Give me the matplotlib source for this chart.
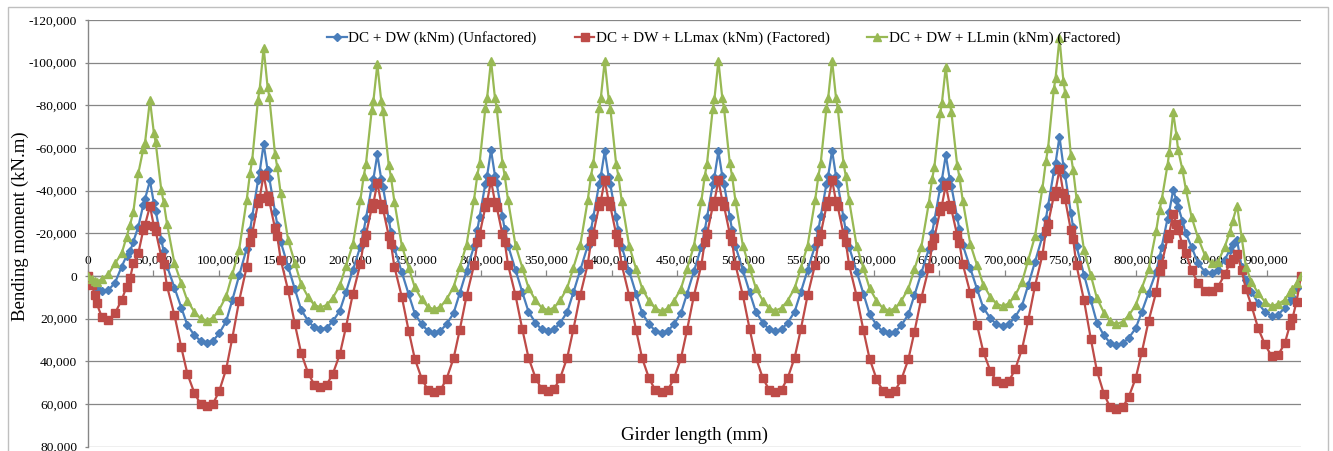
import matplotlib
matplotlib.use("Agg")
import matplotlib.pyplot as plt
from matplotlib.patches import Rectangle
from matplotlib.ticker import FuncFormatter, MultipleLocator

plt.rcParams['font.family'] = ['Liberation Serif', 'DejaVu Serif']

# girder position (mm)
girder_x = [
    0, 2800, 5300, 6600, 10500, 15500, 20600, 25700, 29500, 32100, 34600, 38400, 42200, 43500,
    47300, 50300, 51600, 56000, 57700, 60300, 66000, 71200, 75900, 81200, 85900,
    90700, 95500, 100200, 105500, 110200, 115400, 121100, 123700, 125400, 129800, 131100,
    134100, 137100, 138400, 142800, 144500, 147100, 152800, 158000, 162700, 168000, 172700,
    177500, 182300, 187000, 192300, 197000, 202200, 207900, 210500, 212200, 216600, 217900,
    220900, 223900, 225200, 229600, 231300, 233900, 239600, 244800, 249500, 254800, 259500,
    264300, 269100, 273800, 279100, 283800, 289000, 294700, 297300, 299000, 303400, 304700,
    307700, 310700, 312000, 316400, 318100, 320700, 326400, 331600, 336300, 341600, 346300,
    351100, 355900, 360600, 365900, 370600, 375800, 381500, 384100, 385800, 390200, 391500,
    394500, 397500, 398800, 403200, 404900, 407500, 413200, 418400, 423100, 428400, 433100,
    437900, 442700, 447400, 452700, 457400, 462600, 468300, 470900, 472600, 477000, 478300,
    481300, 484300, 485600, 490000, 491700, 494300, 500000, 505200, 509900, 515200, 519900,
    524700, 529500, 534200, 539500, 544200, 549400, 555100, 557700, 559400, 563800, 565100,
    568100, 571100, 572400, 576800, 578500, 581100, 586800, 592000, 596700, 602000, 606700,
    611500, 616300, 621000, 626300, 631000, 636200, 641900, 644500, 646200, 650600, 651900,
    654900, 657900, 659200, 663600, 665300, 667900, 673600, 678800, 683500, 688800, 693500,
    698300, 703100, 707800, 713100, 717800, 723000, 728700, 731300, 733000, 737400, 738700,
    741700, 744700, 746000, 750400, 752100, 754700, 760400, 765600, 770300, 775600, 780300,
    785100, 789900, 794600, 799900, 804600, 809800, 815500, 818100, 819800, 824200, 825500,
    828500, 831000, 832300, 835500, 838200, 842500, 847600, 852700, 857800, 862800, 867900, 871800, 874000,
    877300, 880700, 884000, 888300, 893400, 898500, 903600, 908600, 913700, 917600, 919600, 922700, 926100,
]

# DC + DW (kNm) (Unfactored)
m_unfactored = [
    0, 2600, 4800, 5500, 7100, 6600, 3200, -4400, -9500, -11500, -16100, -23100, -33300, -36000,
    -44700, -34100, -30700, -17000, -11700, -4700, 5500, 14900, 23100, 27700, 30400,
    31200, 30300, 26900, 21200, 11200, -300, -12800, -21400, -27900, -44800, -48900,
    -61900, -49700, -45900, -30200, -24100, -16100, -4400, 6300, 15700, 21000, 24100,
    25000, 24200, 21200, 16200, 7400, -2700, -13800, -21300, -27100, -41900, -45500,
    -57000, -45300, -41600, -26500, -20700, -13000, -1700, 8500, 17600, 22700, 25700,
    26500, 25600, 22600, 17400, 8100, -2400, -13900, -21800, -27800, -43300, -47000,
    -59000, -47100, -43400, -28000, -22100, -14300, -2900, 7600, 16700, 21900, 25000,
    25800, 25000, 21900, 16800, 7700, -2700, -14100, -21800, -27700, -43000, -46700,
    -58500, -46600, -42900, -27500, -21500, -13700, -2200, 8200, 17400, 22600, 25700,
    26500, 25700, 22600, 17400, 8200, -2200, -13700, -21500, -27500, -42900, -46600,
    -58500, -46700, -43000, -27700, -21800, -14100, -2700, 7700, 16800, 21900, 25000,
    25800, 25000, 21900, 16700, 7600, -2800, -14200, -22000, -27900, -43200, -47000,
    -58800, -46800, -43000, -27500, -21500, -13600, -2100, 8500, 17700, 23000, 26000,
    26900, 26100, 23100, 18000, 8900, -1400, -12600, -20300, -26200, -41300, -45000,
    -56700, -45500, -42000, -27500, -21900, -14500, -3700, 6200, 14800, 19700, 22600,
    23400, 22500, 19300, 13900, 4300, -6600, -18600, -26700, -32900, -49000, -52900,
    -65300, -51600, -47300, -29700, -22800, -13900, -700, 11300, 21900, 27800, 31300,
    32300, 31600, 29000, 24500, 16700, 7800, -2000, -8700, -13800, -26900, -30100,
    -40300, -35500, -32500, -26000, -20000, -13700, -5900, -2000, -1300, -3000, -7700, -12300, -14800,
    -16900, -4400, 1900, 7300, 12800, 16700, 18800, 18200, 14900, 11500, 9800, 5800, 0,
]

# DC + DW + LLmax (kNm) (Factored)
m_llmax = [
    0, 4200, 8900, 12800, 19100, 20600, 17500, 11200, 5000, 1100, -5900, -10600, -21600, -23900,
    -32800, -23400, -21200, -9000, -5600, 4700, 18300, 33400, 45900, 54800, 60000,
    60900, 59800, 53900, 43600, 29000, 11600, -4100, -16100, -20000, -34100, -36700,
    -47500, -37600, -35200, -22300, -18700, -7700, 6700, 22700, 36000, 45400, 50900,
    51900, 50900, 45700, 36600, 23800, 8400, -5500, -16000, -19400, -31800, -34100,
    -43700, -33900, -31500, -18800, -15200, -4400, 9800, 25600, 38800, 48100, 53500,
    54500, 53500, 48100, 38600, 25300, 9400, -5000, -15900, -19500, -32400, -34800,
    -44700, -34800, -32500, -19600, -16100, -5200, 9100, 25000, 38200, 47600, 53000,
    54000, 53000, 47600, 38200, 24900, 9000, -5400, -16300, -19900, -32700, -35100,
    -45000, -35100, -32700, -19700, -16100, -5200, 9200, 25200, 38600, 48000, 53500,
    54500, 53500, 48000, 38600, 25200, 9200, -5200, -16100, -19700, -32700, -35100,
    -45000, -35100, -32700, -19800, -16200, -5300, 9100, 25000, 38300, 47800, 53200,
    54200, 53200, 47800, 38300, 25000, 9100, -5300, -16200, -19800, -32700, -35100,
    -45000, -35000, -32600, -19700, -16100, -5100, 9300, 25400, 38700, 48200, 53700,
    54700, 53700, 48400, 39100, 26100, 10400, -3700, -14500, -18000, -30600, -33000,
    -42700, -33400, -31200, -19100, -15700, -5500, 8000, 23000, 35400, 44300, 49400,
    50300, 49300, 43800, 34300, 20800, 4700, -9900, -20900, -24500, -37600, -40000,
    -50000, -38800, -36100, -21400, -17400, -5000, 11300, 29400, 44500, 55200, 61400,
    62500, 61600, 56600, 47900, 35600, 20900, 7600, -2500, -5800, -17700, -19900,
    -29000, -24500, -21600, -15000, -10600, -2800, 3400, 6900, 7200, 5000, -800, -5900, -8000,
    -10300, -2800, 6000, 14000, 24500, 32000, 37500, 37000, 31600, 23000, 19800, 12000, 0,
]

# DC + DW + LLmin (kNm) (Factored)
m_llmin = [
    0, 1500, 2500, 2700, 1500, -800, -5900, -10600, -18400, -24000, -30000, -48100, -59500, -62200,
    -82500, -67000, -62900, -40100, -34900, -24600, -6000, 3300, 11600, 16800, 19900,
    20900, 19600, 15800, 9400, -800, -12400, -35400, -48200, -54600, -82700, -87800,
    -107000, -88700, -83900, -57100, -51000, -38800, -16900, -6000, 3700, 9800, 13500,
    14700, 13600, 10100, 4400, -4700, -14900, -35400, -46800, -52500, -77600, -82100,
    -99200, -82000, -77400, -52100, -46400, -34900, -14200, -3900, 5300, 11000, 14500,
    15600, 14400, 10900, 5100, -4200, -14700, -35700, -47400, -53200, -78800, -83500,
    -101000, -83500, -78800, -53000, -47200, -35500, -14400, -3900, 5500, 11300, 14800,
    16000, 14800, 11300, 5500, -3900, -14400, -35400, -47100, -52900, -78600, -83300,
    -100800, -83200, -78500, -52700, -46900, -35200, -14100, -3500, 5900, 11700, 15200,
    16400, 15200, 11700, 5900, -3500, -14100, -35200, -46900, -52700, -78500, -83200,
    -100800, -83300, -78600, -52800, -47000, -35300, -14200, -3700, 5700, 11500, 15000,
    16200, 15000, 11500, 5700, -3700, -14300, -35400, -47100, -52900, -78700, -83400,
    -101000, -83400, -78700, -52900, -47100, -35400, -14300, -3700, 5700, 11500, 15000,
    16200, 15100, 11600, 5900, -3200, -13500, -34000, -45500, -51200, -76300, -80900,
    -98000, -81200, -76700, -52000, -46400, -35200, -15000, -5000, 4000, 9600, 13000,
    14100, 12800, 9100, 2800, -7300, -18600, -41200, -53700, -60000, -87600, -92700,
    -111500, -91400, -86000, -56600, -49900, -36500, -12300, -300, 10400, 17100, 21200,
    22500, 21500, 18500, 13600, 5600, -3300, -21100, -31100, -36000, -52000, -58000,
    -76700, -66000, -59000, -50000, -40600, -27800, -17700, -9800, -5900, -6700, -13700, -20800, -26000,
    -33000, -18400, -4400, 2700, 8100, 12000, 14100, 13100, 11200, 7500, 6000, 3400, 0,
]

series_labels = [
    "DC + DW (kNm) (Unfactored)",
    "DC + DW + LLmax (kNm) (Factored)",
    "DC + DW + LLmin (kNm) (Factored)",
]

grid_col = '#868686'

fig = plt.figure(figsize=(13.33, 4.51), dpi=100)
ax = fig.add_axes([88 / 1333, 1 - 446.7 / 451, 1213 / 1333, 426.7 / 451])

ax.plot(girder_x, m_unfactored, color='#4A7EBB', lw=1.6, marker='D', ms=4.3,
        mec='#4A7EBB', mfc='#4A7EBB', label=series_labels[0], zorder=3)
ax.plot(girder_x, m_llmax, color='#BE4B48', lw=1.6, marker='s', ms=5.2,
        mec='#BE4B48', mfc='#BE4B48', label=series_labels[1], zorder=4)
ax.plot(girder_x, m_llmin, color='#98B954', lw=1.6, marker='^', ms=5.5,
        mec='#98B954', mfc='#98B954', label=series_labels[2], zorder=5)

ax.set_xlim(0, 926100)
ax.set_ylim(80000, -120000)
ax.yaxis.set_major_locator(MultipleLocator(20000))
ax.xaxis.set_major_locator(MultipleLocator(50000))
fmt = FuncFormatter(lambda v, p: f"{int(round(v)):,}")
ax.yaxis.set_major_formatter(fmt)
ax.xaxis.set_major_formatter(fmt)

# x axis sits on the zero line, labels above it
ax.spines['top'].set_position(('data', 0))
ax.xaxis.set_ticks_position('top')
ax.spines['bottom'].set_visible(False)
ax.spines['right'].set_visible(False)
for s in ('top', 'left'):
    ax.spines[s].set_color(grid_col)
    ax.spines[s].set_linewidth(1.0)

ax.tick_params(axis='x', direction='out', length=4.5, width=0.9, color=grid_col,
               pad=2, labelsize=9.7)
ax.tick_params(axis='y', direction='out', length=2.5, width=0.9, color=grid_col,
               pad=5.3, labelsize=9.7)
ax.yaxis.grid(True, color=grid_col, lw=0.9)
ax.set_axisbelow(True)

ax.set_ylabel('Bending moment (kN.m)', fontsize=13.5)
ax.yaxis.set_label_coords(-(88 - 29) / 1213, (446.7 - 226) / 426.7)
ax.text(0.5, 0.027, 'Girder length (mm)', transform=ax.transAxes,
        ha='center', va='center', fontsize=13.5)

ax.legend(loc='center', bbox_to_anchor=(0.524, 0.957), ncol=3, frameon=False,
          fontsize=10.9, handlelength=1.32, handletextpad=0.08, columnspacing=2.5,
          numpoints=1, borderaxespad=0)

# chart area border
fig.add_artist(Rectangle((8.3 / 1333, -0.05), 1320 / 1333, 1.05 - 6.7 / 451,
                         transform=fig.transFigure, fill=False, ec='#BFBFBF', lw=1.0))

fig.savefig('out.png', dpi=100)
